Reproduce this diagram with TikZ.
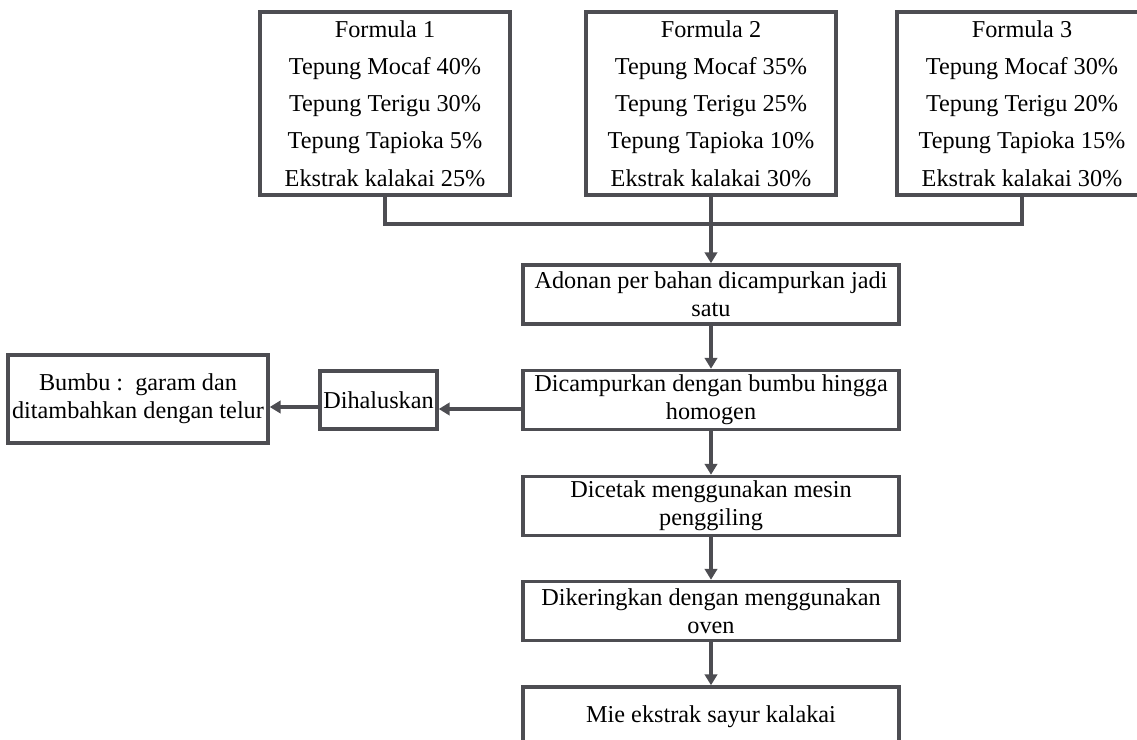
\documentclass[tikz,border=0pt]{standalone}
\usepackage{fontspec}
\setmainfont{Liberation Serif}
\usepackage{tikz}
\usetikzlibrary{arrows.meta}
\definecolor{linegray}{HTML}{4D4D52}
\tikzset{>={Triangle[length=2.2mm,width=2.5mm]}}
\tikzset{
  box/.style={draw=linegray, line width=2pt, rectangle, inner sep=0pt, align=center,
    font=\fontsize{13.8}{15.9}\selectfont},
  formula/.style={box, minimum width=5cm, minimum height=3.66cm,
    font=\fontsize{13.8}{21.2}\selectfont},
  proc/.style={box, minimum width=7.52cm, minimum height=1.18cm},
  line/.style={draw=linegray, line width=2pt},
}

\begin{document}
\begin{tikzpicture}[x=0.02cm, y=-0.02cm]
      \useasboundingbox (0,0) rectangle (1137,740);
      % formulas
      \node[formula] (f1) at (385,103.5) {Formula 1\\Tepung Mocaf 40\%\\Tepung Terigu 30\%\\Tepung Tapioka 5\%\\Ekstrak kalakai 25\%};
      \node[formula] (f2) at (711,103.5) {Formula 2\\Tepung Mocaf 35\%\\Tepung Terigu 25\%\\Tepung Tapioka 10\%\\Ekstrak kalakai 30\%};
      \node[formula] (f3) at (1022,103.5) {Formula 3\\Tepung Mocaf 30\%\\Tepung Terigu 20\%\\Tepung Tapioka 15\%\\Ekstrak kalakai 30\%};
      % steps
      \node[proc] (adonan) at (711,294.5) {Adonan per bahan dicampurkan jadi\\satu};
      \node[proc] (campur) at (711,400) {Dicampurkan dengan bumbu hingga\\homogen};
      \node[proc] (cetak) at (711,506) {Dicetak menggunakan mesin\\penggiling};
      \node[proc] (kering) at (711,611) {Dikeringkan dengan menggunakan\\oven};
      \node[proc] (mie) at (711,716.5) {Mie ekstrak sayur kalakai};
      % side boxes
      \node[box, minimum width=2.34cm, minimum height=1.16cm] (halus) at (378.5,400) {Dihaluskan};
      \node[box, minimum width=5.2cm, minimum height=1.76cm] (bumbu) at (138,399) {Bumbu :\ \ garam dan\\ditambahkan dengan telur};
      % lines
      \coordinate (bus) at (711,224);
      \draw[line] (f1.south) |- (bus) -| (f3.south);
      \draw[line, ->] (f2.south) -- (adonan.north);
      \draw[line, ->] (adonan) -- (campur);
      \draw[line, ->] (campur) -- (cetak);
      \draw[line, ->] (cetak) -- (kering);
      \draw[line, ->] (kering) -- (mie);
      \draw[line, ->] ([yshift=-0.18cm]campur.west) -- ([yshift=-0.18cm]halus.east);
      \draw[line, ->] ([yshift=-0.14cm]halus.west) -- ([yshift=-0.14cm]halus.west -| bumbu.east);
\end{tikzpicture}
\end{document}
